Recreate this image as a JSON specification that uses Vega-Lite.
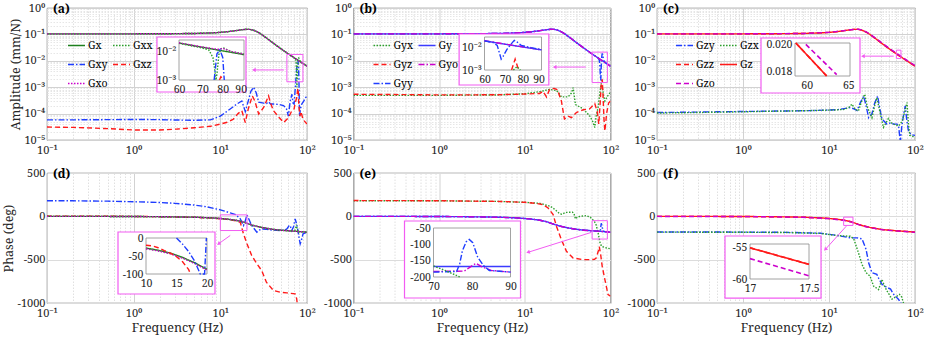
{
"$schema": "https://vega.github.io/schema/vega-lite/v6.json",
"background": "white",
"padding": {"left": 2, "top": 1, "right": 4, "bottom": 1},
"config": {
  "font": "Noto Serif",
  "view": {"stroke": "#262626", "strokeWidth": 0.8},
  "axis": {"labelFont": "Noto Serif", "labelFontSize": 11, "labelColor": "#262626", "titleFont": "Noto Serif", "titleFontSize": 12.5, "titleFontWeight": "normal", "titleColor": "#262626", "domain": false, "ticks": false, "labelPadding": 2, "titlePadding": 1, "labelOverlap": false, "labelFlush": false, "labelBound": false},
  "axisX": {"labelPadding": 4},
  "legend": {"labelFont": "Noto Serif"},
  "title": {"font": "Noto Serif"}
},
"resolve": {"scale": {"color": "independent", "strokeDash": "independent"}, "legend": {"color": "independent", "strokeDash": "independent"}},
"datasets": {
  "mag": [
    {"f":0.1,"v":0.105},{"f":0.2,"v":0.105},{"f":0.5,"v":0.105},{"f":1,"v":0.1051},{"f":2,"v":0.1055},{"f":5,"v":0.1084},{"f":8,"v":0.114},{"f":10,"v":0.1194},{"f":12,"v":0.1262},{"f":15,"v":0.1386},{"f":18,"v":0.1511},{"f":20,"v":0.1559},{"f":22,"v":0.1546},{"f":24,"v":0.1458},{"f":27,"v":0.1232},{"f":30,"v":0.0989},{"f":35,"v":0.0682},{"f":40,"v":0.049},{"f":45,"v":0.0368},{"f":50,"v":0.0287},{"f":55,"v":0.023},{"f":60,"v":0.0189},{"f":65,"v":0.0158},{"f":70,"v":0.01347},{"f":72,"v":0.01267},{"f":74,"v":0.01194},{"f":76,"v":0.01128},{"f":78,"v":0.01067},{"f":80,"v":0.01011},{"f":82,"v":0.00959},{"f":85,"v":0.00888},{"f":90,"v":0.00787},{"f":100,"v":0.0063}
  ],
  "ph": [
    {"f":0.1,"v":0},{"f":0.2,"v":-0.5},{"f":0.5,"v":-1},{"f":1,"v":-2},{"f":2,"v":-4},{"f":5,"v":-10},{"f":8,"v":-18},{"f":10,"v":-25},{"f":12,"v":-32},{"f":15,"v":-45},{"f":18,"v":-62},{"f":20,"v":-78},{"f":22,"v":-93},{"f":25,"v":-110},{"f":30,"v":-128},{"f":35,"v":-140},{"f":40,"v":-150},{"f":50,"v":-160},{"f":60,"v":-166},{"f":70,"v":-171},{"f":80,"v":-175},{"f":90,"v":-179},{"f":100,"v":-183}
  ],
  "a": [
    {"s":"Gxx","f":0.1,"v":0.105},{"s":"Gxx","f":0.2,"v":0.105},{"s":"Gxx","f":0.5,"v":0.105},{"s":"Gxx","f":1,"v":0.1051},{"s":"Gxx","f":2,"v":0.1055},{"s":"Gxx","f":5,"v":0.1084},{"s":"Gxx","f":8,"v":0.114},{"s":"Gxx","f":10,"v":0.1194},{"s":"Gxx","f":12,"v":0.1262},{"s":"Gxx","f":15,"v":0.1386},{"s":"Gxx","f":18,"v":0.1511},{"s":"Gxx","f":20,"v":0.1559},{"s":"Gxx","f":22,"v":0.1546},{"s":"Gxx","f":24,"v":0.1458},{"s":"Gxx","f":27,"v":0.1232},{"s":"Gxx","f":30,"v":0.0989},{"s":"Gxx","f":35,"v":0.0682},{"s":"Gxx","f":40,"v":0.049},{"s":"Gxx","f":45,"v":0.0368},{"s":"Gxx","f":50,"v":0.0287},{"s":"Gxx","f":55,"v":0.023},{"s":"Gxx","f":60,"v":0.0189},{"s":"Gxx","f":65,"v":0.0158},{"s":"Gxx","f":70,"v":0.01347},{"s":"Gxx","f":72,"v":0.0125},{"s":"Gxx","f":74,"v":0.011},{"s":"Gxx","f":75,"v":0.0075},{"s":"Gxx","f":76,"v":0.002},{"s":"Gxx","f":76.5,"v":0.001},{"s":"Gxx","f":77,"v":0.0016},{"s":"Gxx","f":78,"v":0.0075},{"s":"Gxx","f":79,"v":0.0118},{"s":"Gxx","f":80,"v":0.0128},{"s":"Gxx","f":81,"v":0.0124},{"s":"Gxx","f":83,"v":0.0101},{"s":"Gxx","f":85,"v":0.0089},{"s":"Gxx","f":90,"v":0.0079},{"s":"Gxx","f":100,"v":0.0063},
    {"s":"Gxy","f":0.1,"v":5.8e-5},{"s":"Gxy","f":0.2,"v":5.8e-5},{"s":"Gxy","f":0.5,"v":5.9e-5},{"s":"Gxy","f":1,"v":6e-5},{"s":"Gxy","f":2,"v":5.9e-5},{"s":"Gxy","f":3.2,"v":5.7e-5},{"s":"Gxy","f":5,"v":5.6e-5},{"s":"Gxy","f":7.7,"v":5.8e-5},{"s":"Gxy","f":10,"v":8e-5},{"s":"Gxy","f":13,"v":1.5e-4},{"s":"Gxy","f":15.5,"v":2.3e-4},{"s":"Gxy","f":17.7,"v":3e-4},{"s":"Gxy","f":19.4,"v":1.2e-4},{"s":"Gxy","f":21,"v":3e-4},{"s":"Gxy","f":22.5,"v":7e-4},{"s":"Gxy","f":24.2,"v":1e-3},{"s":"Gxy","f":26,"v":6e-4},{"s":"Gxy","f":27.7,"v":2.7e-4},{"s":"Gxy","f":31.6,"v":2.5e-4},{"s":"Gxy","f":34,"v":2.4e-4},{"s":"Gxy","f":36,"v":2.8e-4},{"s":"Gxy","f":38,"v":2.3e-4},{"s":"Gxy","f":41,"v":2.3e-4},{"s":"Gxy","f":48,"v":2.2e-4},{"s":"Gxy","f":53.7,"v":2e-4},{"s":"Gxy","f":58,"v":1.5e-4},{"s":"Gxy","f":61,"v":8e-5},{"s":"Gxy","f":64,"v":3e-4},{"s":"Gxy","f":67,"v":5.4e-4},{"s":"Gxy","f":69,"v":2.5e-4},{"s":"Gxy","f":71,"v":2.3e-4},{"s":"Gxy","f":73,"v":8e-4},{"s":"Gxy","f":75,"v":3e-3},{"s":"Gxy","f":77,"v":8e-3},{"s":"Gxy","f":78.5,"v":1.1e-2},{"s":"Gxy","f":80,"v":6e-3},{"s":"Gxy","f":81,"v":1e-3},{"s":"Gxy","f":82,"v":8e-5},{"s":"Gxy","f":84,"v":1.5e-4},{"s":"Gxy","f":87,"v":2.3e-4},{"s":"Gxy","f":92,"v":3e-4},{"s":"Gxy","f":96,"v":4e-4},{"s":"Gxy","f":100,"v":4.5e-4},
    {"s":"Gxz","f":0.1,"v":3.1e-5},{"s":"Gxz","f":0.2,"v":3e-5},{"s":"Gxz","f":0.5,"v":2.7e-5},{"s":"Gxz","f":1,"v":2.4e-5},{"s":"Gxz","f":2,"v":2.4e-5},{"s":"Gxz","f":3.2,"v":2.6e-5},{"s":"Gxz","f":5,"v":2.9e-5},{"s":"Gxz","f":7.7,"v":3.3e-5},{"s":"Gxz","f":10,"v":4e-5},{"s":"Gxz","f":12,"v":4.7e-5},{"s":"Gxz","f":14,"v":6e-5},{"s":"Gxz","f":16,"v":1e-4},{"s":"Gxz","f":17.7,"v":1.3e-4},{"s":"Gxz","f":19.4,"v":4.6e-5},{"s":"Gxz","f":21,"v":1.5e-4},{"s":"Gxz","f":23.4,"v":4.7e-4},{"s":"Gxz","f":25,"v":3e-4},{"s":"Gxz","f":27.7,"v":9.6e-5},{"s":"Gxz","f":31.6,"v":1.7e-4},{"s":"Gxz","f":34,"v":3e-4},{"s":"Gxz","f":36,"v":4.7e-4},{"s":"Gxz","f":38,"v":2.5e-4},{"s":"Gxz","f":41,"v":1.3e-4},{"s":"Gxz","f":48,"v":6.9e-5},{"s":"Gxz","f":54,"v":4.6e-5},{"s":"Gxz","f":61,"v":7e-5},{"s":"Gxz","f":67,"v":1.3e-4},{"s":"Gxz","f":71,"v":1.5e-4},{"s":"Gxz","f":73,"v":2.5e-4},{"s":"Gxz","f":76,"v":4e-4},{"s":"Gxz","f":78,"v":8e-4},{"s":"Gxz","f":79,"v":9e-4},{"s":"Gxz","f":80.5,"v":2e-4},{"s":"Gxz","f":83,"v":8e-5},{"s":"Gxz","f":85,"v":1.2e-4},{"s":"Gxz","f":90,"v":6e-5},{"s":"Gxz","f":100,"v":4e-5}
  ],
  "b": [
    {"s":"Gyx","f":0.1,"v":4.9e-4},{"s":"Gyx","f":0.2,"v":4.9e-4},{"s":"Gyx","f":0.5,"v":4.9e-4},{"s":"Gyx","f":1,"v":4.9e-4},{"s":"Gyx","f":2,"v":5e-4},{"s":"Gyx","f":5,"v":5.1e-4},{"s":"Gyx","f":10.4,"v":5.7e-4},{"s":"Gyx","f":15,"v":6.8e-4},{"s":"Gyx","f":19.5,"v":8.3e-4},{"s":"Gyx","f":23.4,"v":7.5e-4},{"s":"Gyx","f":25,"v":6e-4},{"s":"Gyx","f":26.7,"v":4.3e-4},{"s":"Gyx","f":32,"v":4.3e-4},{"s":"Gyx","f":35,"v":6e-4},{"s":"Gyx","f":36.6,"v":9.6e-4},{"s":"Gyx","f":39,"v":2.2e-4},{"s":"Gyx","f":48,"v":1.5e-4},{"s":"Gyx","f":57,"v":8.3e-5},{"s":"Gyx","f":62,"v":5e-5},{"s":"Gyx","f":65.5,"v":3e-5},{"s":"Gyx","f":68,"v":8e-5},{"s":"Gyx","f":71.6,"v":1.7e-4},{"s":"Gyx","f":75,"v":6e-4},{"s":"Gyx","f":78,"v":1.4e-3},{"s":"Gyx","f":80,"v":1e-3},{"s":"Gyx","f":83,"v":5e-4},{"s":"Gyx","f":86,"v":3e-4},{"s":"Gyx","f":92,"v":4.5e-4},{"s":"Gyx","f":100,"v":6.5e-4},
    {"s":"Gyz","f":0.1,"v":5.4e-4},{"s":"Gyz","f":0.2,"v":5.3e-4},{"s":"Gyz","f":0.5,"v":5.2e-4},{"s":"Gyz","f":1,"v":5.1e-4},{"s":"Gyz","f":2,"v":5.1e-4},{"s":"Gyz","f":5,"v":5.2e-4},{"s":"Gyz","f":10,"v":5.5e-4},{"s":"Gyz","f":14.9,"v":5.8e-4},{"s":"Gyz","f":16.3,"v":7e-4},{"s":"Gyz","f":17.9,"v":4.3e-4},{"s":"Gyz","f":19.5,"v":8.3e-4},{"s":"Gyz","f":22,"v":9e-4},{"s":"Gyz","f":24,"v":8e-4},{"s":"Gyz","f":26.7,"v":3e-4},{"s":"Gyz","f":29,"v":6.2e-5},{"s":"Gyz","f":32,"v":8e-5},{"s":"Gyz","f":35,"v":7e-5},{"s":"Gyz","f":40,"v":1.1e-4},{"s":"Gyz","f":48,"v":1.4e-4},{"s":"Gyz","f":57,"v":1.5e-4},{"s":"Gyz","f":65.5,"v":2.4e-4},{"s":"Gyz","f":70,"v":1.2e-4},{"s":"Gyz","f":73,"v":4e-5},{"s":"Gyz","f":76,"v":3e-4},{"s":"Gyz","f":78,"v":1.5e-3},{"s":"Gyz","f":80,"v":2e-3},{"s":"Gyz","f":82,"v":4e-4},{"s":"Gyz","f":84,"v":6e-5},{"s":"Gyz","f":86,"v":2.2e-5},{"s":"Gyz","f":90,"v":1e-4},{"s":"Gyz","f":95,"v":2.5e-4},{"s":"Gyz","f":100,"v":3e-4},
    {"s":"Gyy","f":0.1,"v":0.105},{"s":"Gyy","f":0.2,"v":0.105},{"s":"Gyy","f":0.5,"v":0.105},{"s":"Gyy","f":1,"v":0.1051},{"s":"Gyy","f":2,"v":0.1055},{"s":"Gyy","f":5,"v":0.1084},{"s":"Gyy","f":8,"v":0.114},{"s":"Gyy","f":10,"v":0.1194},{"s":"Gyy","f":12,"v":0.1262},{"s":"Gyy","f":15,"v":0.1386},{"s":"Gyy","f":18,"v":0.1511},{"s":"Gyy","f":20,"v":0.1559},{"s":"Gyy","f":22,"v":0.1546},{"s":"Gyy","f":24,"v":0.1458},{"s":"Gyy","f":27,"v":0.1232},{"s":"Gyy","f":30,"v":0.0989},{"s":"Gyy","f":35,"v":0.0682},{"s":"Gyy","f":40,"v":0.049},{"s":"Gyy","f":45,"v":0.0368},{"s":"Gyy","f":50,"v":0.0287},{"s":"Gyy","f":55,"v":0.023},{"s":"Gyy","f":60,"v":0.0189},{"s":"Gyy","f":65,"v":0.0158},{"s":"Gyy","f":70,"v":0.01347},{"s":"Gyy","f":72,"v":0.01267},{"s":"Gyy","f":74,"v":0.0105},{"s":"Gyy","f":75,"v":0.007},{"s":"Gyy","f":76,"v":0.003},{"s":"Gyy","f":77,"v":0.0018},{"s":"Gyy","f":78,"v":0.006},{"s":"Gyy","f":79,"v":0.014},{"s":"Gyy","f":80,"v":0.019},{"s":"Gyy","f":81,"v":0.017},{"s":"Gyy","f":83,"v":0.011},{"s":"Gyy","f":85,"v":0.0092},{"s":"Gyy","f":90,"v":0.0079},{"s":"Gyy","f":100,"v":0.0063}
  ],
  "c": [
    {"s":"Gzy","f":0.1,"v":1.1e-4},{"s":"Gzy","f":0.2,"v":1.12e-4},{"s":"Gzy","f":0.5,"v":1.17e-4},{"s":"Gzy","f":1,"v":1.2e-4},{"s":"Gzy","f":2,"v":1.24e-4},{"s":"Gzy","f":3.25,"v":1.26e-4},{"s":"Gzy","f":6,"v":1.3e-4},{"s":"Gzy","f":12.4,"v":1.4e-4},{"s":"Gzy","f":15,"v":1.55e-4},{"s":"Gzy","f":17.7,"v":1.7e-4},{"s":"Gzy","f":19.5,"v":1.5e-4},{"s":"Gzy","f":21.2,"v":1.3e-4},{"s":"Gzy","f":23,"v":2.5e-4},{"s":"Gzy","f":25.3,"v":4.6e-4},{"s":"Gzy","f":27,"v":2e-4},{"s":"Gzy","f":28.9,"v":7e-5},{"s":"Gzy","f":31.6,"v":1e-4},{"s":"Gzy","f":34,"v":2.5e-4},{"s":"Gzy","f":36.8,"v":4.6e-4},{"s":"Gzy","f":39,"v":1.5e-4},{"s":"Gzy","f":41.3,"v":6.2e-5},{"s":"Gzy","f":47.2,"v":4e-5},{"s":"Gzy","f":52,"v":4.5e-5},{"s":"Gzy","f":56.5,"v":4e-5},{"s":"Gzy","f":62,"v":4e-5},{"s":"Gzy","f":64.5,"v":3.4e-5},{"s":"Gzy","f":67.5,"v":8e-6},{"s":"Gzy","f":70,"v":3e-5},{"s":"Gzy","f":74,"v":1e-4},{"s":"Gzy","f":77,"v":1.95e-4},{"s":"Gzy","f":80,"v":6e-5},{"s":"Gzy","f":84,"v":2.2e-5},{"s":"Gzy","f":90,"v":1.6e-5},{"s":"Gzy","f":100,"v":1.5e-5},
    {"s":"Gzx","f":0.1,"v":1.05e-4},{"s":"Gzx","f":0.2,"v":1.08e-4},{"s":"Gzx","f":0.5,"v":1.13e-4},{"s":"Gzx","f":1,"v":1.17e-4},{"s":"Gzx","f":2,"v":1.22e-4},{"s":"Gzx","f":3.25,"v":1.25e-4},{"s":"Gzx","f":6,"v":1.3e-4},{"s":"Gzx","f":12.4,"v":1.38e-4},{"s":"Gzx","f":15,"v":1.45e-4},{"s":"Gzx","f":17,"v":1.7e-4},{"s":"Gzx","f":18.5,"v":2.3e-4},{"s":"Gzx","f":20,"v":1.5e-4},{"s":"Gzx","f":22,"v":1.26e-4},{"s":"Gzx","f":24,"v":3e-4},{"s":"Gzx","f":26,"v":5.4e-4},{"s":"Gzx","f":28,"v":1.7e-4},{"s":"Gzx","f":31.6,"v":7e-5},{"s":"Gzx","f":34,"v":2e-4},{"s":"Gzx","f":36,"v":4e-4},{"s":"Gzx","f":39,"v":1.2e-4},{"s":"Gzx","f":43,"v":3e-5},{"s":"Gzx","f":49,"v":6.5e-5},{"s":"Gzx","f":53,"v":4.5e-5},{"s":"Gzx","f":56.5,"v":4e-5},{"s":"Gzx","f":64.5,"v":3.4e-5},{"s":"Gzx","f":70.6,"v":5e-5},{"s":"Gzx","f":75,"v":1e-4},{"s":"Gzx","f":80.7,"v":2.6e-4},{"s":"Gzx","f":84,"v":4e-5},{"s":"Gzx","f":87,"v":1.5e-5},{"s":"Gzx","f":93,"v":1.4e-5},{"s":"Gzx","f":100,"v":1.2e-5},
    {"s":"Gzo","f":0.1,"v":0.105},{"s":"Gzo","f":1,"v":0.1051},{"s":"Gzo","f":5,"v":0.1084},{"s":"Gzo","f":10,"v":0.1194},{"s":"Gzo","f":15,"v":0.1386},{"s":"Gzo","f":20,"v":0.1559},{"s":"Gzo","f":22,"v":0.156},{"s":"Gzo","f":24,"v":0.148},{"s":"Gzo","f":27,"v":0.126},{"s":"Gzo","f":30,"v":0.1019},{"s":"Gzo","f":35,"v":0.071},{"s":"Gzo","f":40,"v":0.0515},{"s":"Gzo","f":50,"v":0.0301},{"s":"Gzo","f":60,"v":0.0198},{"s":"Gzo","f":70,"v":0.0141},{"s":"Gzo","f":80,"v":0.0106},{"s":"Gzo","f":90,"v":0.00826},{"s":"Gzo","f":100,"v":0.00662}
  ],
  "d": [
    {"s":"Gxy","f":0.1,"v":180},{"s":"Gxy","f":0.2,"v":179},{"s":"Gxy","f":0.5,"v":175},{"s":"Gxy","f":1,"v":168},{"s":"Gxy","f":2,"v":160},{"s":"Gxy","f":3,"v":150},{"s":"Gxy","f":5,"v":130},{"s":"Gxy","f":7,"v":110},{"s":"Gxy","f":10,"v":75},{"s":"Gxy","f":13,"v":40},{"s":"Gxy","f":15,"v":20},{"s":"Gxy","f":17,"v":-29},{"s":"Gxy","f":18.5,"v":-106},{"s":"Gxy","f":19.3,"v":-60},{"s":"Gxy","f":20.3,"v":17},{"s":"Gxy","f":21.5,"v":-40},{"s":"Gxy","f":23,"v":-106},{"s":"Gxy","f":26.4,"v":-183},{"s":"Gxy","f":28,"v":-160},{"s":"Gxy","f":30,"v":-145},{"s":"Gxy","f":34,"v":-150},{"s":"Gxy","f":37.7,"v":-156},{"s":"Gxy","f":49,"v":-164},{"s":"Gxy","f":55,"v":-160},{"s":"Gxy","f":58.6,"v":-145},{"s":"Gxy","f":62,"v":-110},{"s":"Gxy","f":64,"v":-106},{"s":"Gxy","f":66.5,"v":-164},{"s":"Gxy","f":70,"v":-120},{"s":"Gxy","f":73,"v":-29},{"s":"Gxy","f":76,"v":-90},{"s":"Gxy","f":78,"v":-145},{"s":"Gxy","f":81,"v":-250},{"s":"Gxy","f":83.5,"v":-317},{"s":"Gxy","f":86,"v":-280},{"s":"Gxy","f":90,"v":-202},{"s":"Gxy","f":100,"v":-183},
    {"s":"Gxz","f":0.1,"v":3},{"s":"Gxz","f":0.5,"v":1},{"s":"Gxz","f":1,"v":-1},{"s":"Gxz","f":2,"v":-4},{"s":"Gxz","f":5,"v":-11},{"s":"Gxz","f":8,"v":-20},{"s":"Gxz","f":10,"v":-28},{"s":"Gxz","f":12,"v":-35},{"s":"Gxz","f":14,"v":-45},{"s":"Gxz","f":15.5,"v":-55},{"s":"Gxz","f":17,"v":-70},{"s":"Gxz","f":18.5,"v":-202},{"s":"Gxz","f":20.3,"v":-317},{"s":"Gxz","f":23,"v":-452},{"s":"Gxz","f":26.4,"v":-548},{"s":"Gxz","f":30,"v":-625},{"s":"Gxz","f":34,"v":-760},{"s":"Gxz","f":41,"v":-856},{"s":"Gxz","f":49,"v":-875},{"s":"Gxz","f":58.6,"v":-883},{"s":"Gxz","f":73,"v":-895},{"s":"Gxz","f":76,"v":-950},{"s":"Gxz","f":78,"v":-1050},{"s":"Gxz","f":85,"v":-1150},{"s":"Gxz","f":100,"v":-1300},
    {"s":"Gxx","f":0.1,"v":0},{"s":"Gxx","f":0.2,"v":-0.5},{"s":"Gxx","f":0.5,"v":-1},{"s":"Gxx","f":1,"v":-2},{"s":"Gxx","f":2,"v":-4},{"s":"Gxx","f":5,"v":-10},{"s":"Gxx","f":8,"v":-18},{"s":"Gxx","f":10,"v":-25},{"s":"Gxx","f":12,"v":-32},{"s":"Gxx","f":15,"v":-45},{"s":"Gxx","f":18,"v":-62},{"s":"Gxx","f":20,"v":-78},{"s":"Gxx","f":22,"v":-93},{"s":"Gxx","f":25,"v":-110},{"s":"Gxx","f":30,"v":-128},{"s":"Gxx","f":35,"v":-140},{"s":"Gxx","f":40,"v":-150},{"s":"Gxx","f":50,"v":-160},{"s":"Gxx","f":60,"v":-166},{"s":"Gxx","f":70,"v":-171},{"s":"Gxx","f":72,"v":-168},{"s":"Gxx","f":74,"v":-140},{"s":"Gxx","f":75.5,"v":-95},{"s":"Gxx","f":77,"v":-150},{"s":"Gxx","f":79,"v":-185},{"s":"Gxx","f":82,"v":-178},{"s":"Gxx","f":90,"v":-179},{"s":"Gxx","f":100,"v":-183}
  ],
  "e": [
    {"s":"Gyx","f":0.1,"v":180},{"s":"Gyx","f":1,"v":179},{"s":"Gyx","f":5,"v":172},{"s":"Gyx","f":10,"v":162},{"s":"Gyx","f":15,"v":150},{"s":"Gyx","f":20,"v":115},{"s":"Gyx","f":23,"v":70},{"s":"Gyx","f":25.5,"v":30},{"s":"Gyx","f":27,"v":25},{"s":"Gyx","f":30,"v":45},{"s":"Gyx","f":36,"v":48},{"s":"Gyx","f":37.5,"v":30},{"s":"Gyx","f":39,"v":-30},{"s":"Gyx","f":41,"v":-10},{"s":"Gyx","f":44,"v":0},{"s":"Gyx","f":52,"v":8},{"s":"Gyx","f":58,"v":-10},{"s":"Gyx","f":65,"v":-60},{"s":"Gyx","f":68,"v":-100},{"s":"Gyx","f":72,"v":-200},{"s":"Gyx","f":76,"v":-320},{"s":"Gyx","f":80,"v":-350},{"s":"Gyx","f":90,"v":-365},{"s":"Gyx","f":100,"v":-375},
    {"s":"Gyz","f":0.1,"v":182},{"s":"Gyz","f":1,"v":180},{"s":"Gyz","f":5,"v":172},{"s":"Gyz","f":10,"v":162},{"s":"Gyz","f":14,"v":147},{"s":"Gyz","f":16.3,"v":135},{"s":"Gyz","f":18.7,"v":96},{"s":"Gyz","f":21.4,"v":20},{"s":"Gyz","f":23.4,"v":-115},{"s":"Gyz","f":26.7,"v":-269},{"s":"Gyz","f":30.6,"v":-404},{"s":"Gyz","f":36.6,"v":-481},{"s":"Gyz","f":48,"v":-500},{"s":"Gyz","f":58.7,"v":-500},{"s":"Gyz","f":65,"v":-495},{"s":"Gyz","f":68.4,"v":-480},{"s":"Gyz","f":72,"v":-400},{"s":"Gyz","f":74,"v":-350},{"s":"Gyz","f":77,"v":-450},{"s":"Gyz","f":80,"v":-577},{"s":"Gyz","f":86,"v":-730},{"s":"Gyz","f":93.6,"v":-903},{"s":"Gyz","f":100,"v":-920},
    {"s":"Gyy","f":0.1,"v":0},{"s":"Gyy","f":0.2,"v":-0.5},{"s":"Gyy","f":0.5,"v":-1},{"s":"Gyy","f":1,"v":-2},{"s":"Gyy","f":2,"v":-4},{"s":"Gyy","f":5,"v":-10},{"s":"Gyy","f":8,"v":-18},{"s":"Gyy","f":10,"v":-25},{"s":"Gyy","f":12,"v":-32},{"s":"Gyy","f":15,"v":-45},{"s":"Gyy","f":18,"v":-62},{"s":"Gyy","f":20,"v":-78},{"s":"Gyy","f":22,"v":-93},{"s":"Gyy","f":25,"v":-110},{"s":"Gyy","f":30,"v":-128},{"s":"Gyy","f":35,"v":-140},{"s":"Gyy","f":40,"v":-150},{"s":"Gyy","f":50,"v":-160},{"s":"Gyy","f":60,"v":-166},{"s":"Gyy","f":70,"v":-171},{"s":"Gyy","f":74,"v":-173},{"s":"Gyy","f":76,"v":-178},{"s":"Gyy","f":77,"v":-120},{"s":"Gyy","f":78,"v":-80},{"s":"Gyy","f":79,"v":-95},{"s":"Gyy","f":81,"v":-150},{"s":"Gyy","f":83,"v":-170},{"s":"Gyy","f":86,"v":-177},{"s":"Gyy","f":90,"v":-179},{"s":"Gyy","f":100,"v":-183}
  ],
  "f": [
    {"s":"Gzy","f":0.1,"v":-180},{"s":"Gzy","f":1,"v":-182},{"s":"Gzy","f":3.25,"v":-185},{"s":"Gzy","f":8,"v":-195},{"s":"Gzy","f":12.4,"v":-220},{"s":"Gzy","f":17.7,"v":-248},{"s":"Gzy","f":21.2,"v":-248},{"s":"Gzy","f":24.2,"v":-260},{"s":"Gzy","f":27,"v":-382},{"s":"Gzy","f":28.9,"v":-536},{"s":"Gzy","f":31.6,"v":-651},{"s":"Gzy","f":36,"v":-670},{"s":"Gzy","f":38,"v":-720},{"s":"Gzy","f":41.3,"v":-785},{"s":"Gzy","f":47.2,"v":-820},{"s":"Gzy","f":52,"v":-840},{"s":"Gzy","f":56.5,"v":-900},{"s":"Gzy","f":64.5,"v":-960},{"s":"Gzy","f":70.6,"v":-1020},{"s":"Gzy","f":80,"v":-1100},{"s":"Gzy","f":100,"v":-1200},
    {"s":"Gzx","f":0.1,"v":-182},{"s":"Gzx","f":1,"v":-184},{"s":"Gzx","f":3.25,"v":-187},{"s":"Gzx","f":8,"v":-197},{"s":"Gzx","f":12.4,"v":-222},{"s":"Gzx","f":17.7,"v":-230},{"s":"Gzx","f":19.4,"v":-260},{"s":"Gzx","f":22,"v":-420},{"s":"Gzx","f":24.2,"v":-555},{"s":"Gzx","f":27,"v":-650},{"s":"Gzx","f":30,"v":-690},{"s":"Gzx","f":33,"v":-805},{"s":"Gzx","f":37.7,"v":-845},{"s":"Gzx","f":41.3,"v":-728},{"s":"Gzx","f":44,"v":-800},{"s":"Gzx","f":47.2,"v":-860},{"s":"Gzx","f":54,"v":-955},{"s":"Gzx","f":61.7,"v":-920},{"s":"Gzx","f":66,"v":-900},{"s":"Gzx","f":70,"v":-930},{"s":"Gzx","f":76,"v":-1050},{"s":"Gzx","f":100,"v":-1150},
    {"s":"Gzo","f":0.1,"v":-1},{"s":"Gzo","f":1,"v":-3},{"s":"Gzo","f":2,"v":-5},{"s":"Gzo","f":5,"v":-11},{"s":"Gzo","f":10,"v":-27},{"s":"Gzo","f":15,"v":-47},{"s":"Gzo","f":18,"v":-64},{"s":"Gzo","f":20,"v":-80},{"s":"Gzo","f":22,"v":-95},{"s":"Gzo","f":25,"v":-112},{"s":"Gzo","f":30,"v":-130},{"s":"Gzo","f":35,"v":-142},{"s":"Gzo","f":40,"v":-152},{"s":"Gzo","f":50,"v":-162},{"s":"Gzo","f":60,"v":-168},{"s":"Gzo","f":70,"v":-173},{"s":"Gzo","f":80,"v":-177},{"s":"Gzo","f":90,"v":-181},{"s":"Gzo","f":100,"v":-185}
  ],
  "ia": [
    {"s":"Gx","f":60,"v":0.0189},{"s":"Gx","f":65,"v":0.0158},{"s":"Gx","f":70,"v":0.01347},{"s":"Gx","f":75,"v":0.0116},{"s":"Gx","f":80,"v":0.0101},{"s":"Gx","f":85,"v":0.0089},{"s":"Gx","f":92,"v":0.0075},
    {"s":"Gxx","f":60,"v":0.0185},{"s":"Gxx","f":65,"v":0.0152},{"s":"Gxx","f":70,"v":0.0127},{"s":"Gxx","f":73,"v":0.0108},{"s":"Gxx","f":75,"v":0.006},{"s":"Gxx","f":76,"v":0.002},{"s":"Gxx","f":76.5,"v":0.001},{"s":"Gxx","f":77,"v":0.0016},{"s":"Gxx","f":78,"v":0.0075},{"s":"Gxx","f":79,"v":0.0118},{"s":"Gxx","f":80,"v":0.0128},{"s":"Gxx","f":81,"v":0.0124},{"s":"Gxx","f":83,"v":0.0105},{"s":"Gxx","f":85,"v":0.0095},{"s":"Gxx","f":92,"v":0.0079},
    {"s":"Gxo","f":60,"v":0.0192},{"s":"Gxo","f":70,"v":0.0137},{"s":"Gxo","f":76,"v":0.0118},{"s":"Gxo","f":78,"v":0.0115},{"s":"Gxo","f":80,"v":0.0123},{"s":"Gxo","f":82,"v":0.0111},{"s":"Gxo","f":85,"v":0.0095},{"s":"Gxo","f":92,"v":0.0078},
    {"s":"Gxy","f":75.6,"v":0.001},{"s":"Gxy","f":77,"v":0.008},{"s":"Gxy","f":78.5,"v":0.011},{"s":"Gxy","f":80,"v":0.006},{"s":"Gxy","f":80.8,"v":0.001},
    {"s":"Gxz","f":78.3,"v":0.001},{"s":"Gxz","f":79,"v":0.0013},{"s":"Gxz","f":80,"v":0.0011},{"s":"Gxz","f":80.4,"v":0.001}
  ],
  "ib": [
    {"s":"Gy","f":60,"v":0.019},{"s":"Gy","f":70,"v":0.0135},{"s":"Gy","f":80,"v":0.0102},{"s":"Gy","f":92,"v":0.0076},
    {"s":"Gyo","f":60,"v":0.0192},{"s":"Gyo","f":70,"v":0.0137},{"s":"Gyo","f":80,"v":0.0104},{"s":"Gyo","f":92,"v":0.0077},
    {"s":"Gyy","f":60,"v":0.019},{"s":"Gyy","f":64,"v":0.016},{"s":"Gyy","f":66,"v":0.012},{"s":"Gyy","f":67,"v":0.006},{"s":"Gyy","f":68,"v":0.003},{"s":"Gyy","f":69,"v":0.004},{"s":"Gyy","f":71,"v":0.008},{"s":"Gyy","f":73,"v":0.013},{"s":"Gyy","f":75,"v":0.02},{"s":"Gyy","f":76.5,"v":0.017},{"s":"Gyy","f":79,"v":0.012},{"s":"Gyy","f":85,"v":0.0095},{"s":"Gyy","f":92,"v":0.0078},
    {"s":"Gyz","f":73.5,"v":0.001},{"s":"Gyz","f":75.5,"v":0.003},{"s":"Gyz","f":77.5,"v":0.001},
    {"s":"Gyx","f":74.5,"v":0.001},{"s":"Gyx","f":76.5,"v":0.0014},{"s":"Gyx","f":78.5,"v":0.001}
  ],
  "ic": [
    {"s":"Gzz","f":58.7,"v":0.0201},{"s":"Gzz","f":62.4,"v":0.0177},
    {"s":"Gz","f":58.7,"v":0.0201},{"s":"Gz","f":62.4,"v":0.0177},
    {"s":"Gzo","f":59.9,"v":0.02},{"s":"Gzo","f":63.6,"v":0.0178}
  ],
  "id": [
    {"s":"Gx","f":10,"v":-28},{"s":"Gx","f":12,"v":-34},{"s":"Gx","f":14,"v":-42},{"s":"Gx","f":16,"v":-54},{"s":"Gx","f":18,"v":-69},{"s":"Gx","f":20,"v":-87},
    {"s":"Gxx","f":10,"v":-29},{"s":"Gxx","f":12,"v":-35},{"s":"Gxx","f":14,"v":-43},{"s":"Gxx","f":16,"v":-55},{"s":"Gxx","f":18,"v":-70},{"s":"Gxx","f":20,"v":-88},
    {"s":"Gxo","f":10,"v":-30},{"s":"Gxo","f":12,"v":-36},{"s":"Gxo","f":14,"v":-44},{"s":"Gxo","f":16,"v":-56},{"s":"Gxo","f":18,"v":-71},{"s":"Gxo","f":20,"v":-89},
    {"s":"Gxz","f":10,"v":-20},{"s":"Gxz","f":11,"v":-22},{"s":"Gxz","f":12,"v":-27},{"s":"Gxz","f":13,"v":-35},{"s":"Gxz","f":14,"v":-42},{"s":"Gxz","f":15,"v":-52},{"s":"Gxz","f":16,"v":-66},{"s":"Gxz","f":17,"v":-88},{"s":"Gxz","f":17.3,"v":-100},
    {"s":"Gxy","f":15,"v":0},{"s":"Gxy","f":16,"v":-17},{"s":"Gxy","f":17,"v":-38},{"s":"Gxy","f":18,"v":-65},{"s":"Gxy","f":18.9,"v":-100},{"s":"Gxy","f":19.6,"v":-100},{"s":"Gxy","f":19.9,"v":0}
  ],
  "ie": [
    {"s":"Gy","f":70,"v":-168},{"s":"Gy","f":90,"v":-168},
    {"s":"Gyo","f":70,"v":-183},{"s":"Gyo","f":78,"v":-182},{"s":"Gyo","f":79.5,"v":-170},{"s":"Gyo","f":81,"v":-158},{"s":"Gyo","f":82.5,"v":-168},{"s":"Gyo","f":85,"v":-180},{"s":"Gyo","f":90,"v":-185},
    {"s":"Gyy","f":70,"v":-185},{"s":"Gyy","f":76,"v":-183},{"s":"Gyy","f":76.8,"v":-160},{"s":"Gyy","f":77.5,"v":-120},{"s":"Gyy","f":78.5,"v":-92},{"s":"Gyy","f":79.3,"v":-85},{"s":"Gyy","f":80.2,"v":-95},{"s":"Gyy","f":81.5,"v":-140},{"s":"Gyy","f":83,"v":-165},{"s":"Gyy","f":84.5,"v":-180},{"s":"Gyy","f":90,"v":-185},
    {"s":"Gyx","f":70,"v":-166},{"s":"Gyx","f":73,"v":-180},{"s":"Gyx","f":76.5,"v":-198},{"s":"Gyx","f":76.8,"v":-200}
  ],
  "if": [
    {"s":"Gzz","f":17,"v":-55.1},{"s":"Gzz","f":17.5,"v":-57.7},
    {"s":"Gz","f":17,"v":-55.1},{"s":"Gz","f":17.5,"v":-57.7},
    {"s":"Gzo","f":17,"v":-56.8},{"s":"Gzo","f":17.5,"v":-59.5}
  ]
},
"columns": 3,
"spacing": {"row": 33, "column": 46.5},
"bounds": "flush",
"concat": [
  {
    "width": 260, "height": 132,
    "title": {"text": "(a)", "anchor": "start", "frame": "group", "dx": 6, "dy": 18, "fontSize": 12, "fontWeight": "bold", "color": "#000000"},
    "resolve": {"scale": {"x": "independent", "y": "independent"}},
    "layer": [
      {
        "layer": [
          {"data": {"name": "a"}, "transform": [{"filter": "datum.s=='Gxy'||datum.s=='Gxz'"}], "mark": {"type": "line", "clip": true, "strokeWidth": 1.4},
           "encoding": {
             "x": {"field": "f", "type": "quantitative", "scale": {"type": "log", "domain": [0.1, 100], "nice": false}, "axis": {"title": null, "values": [0.1,0.2,0.3,0.4,0.5,0.6,0.7,0.8,0.9,1,2,3,4,5,6,7,8,9,10,20,30,40,50,60,70,80,90,100], "labelExpr": "abs(log(datum.value)/LN10-round(log(datum.value)/LN10))<0.001?'10'+['⁻⁵','⁻⁴','⁻³','⁻²','⁻¹','⁰','¹','²'][round(log(datum.value)/LN10)+5]:''", "gridColor": {"condition": {"test": "abs(log(datum.value)/LN10-round(log(datum.value)/LN10))<0.001", "value": "#d2d2d2"}, "value": "#e0e0e0"}, "gridDash": {"condition": {"test": "abs(log(datum.value)/LN10-round(log(datum.value)/LN10))<0.001", "value": []}, "value": [1.5, 1.5]}}},
             "y": {"field": "v", "type": "quantitative", "scale": {"type": "log", "domain": [0.00001, 1], "nice": false}, "axis": {"title": "Amplitude (mm/N)", "values": [0.00001,0.00002,0.00003,0.00004,0.00005,0.00006,0.00007,0.00008,0.00009,0.0001,0.0002,0.0003,0.0004,0.0005,0.0006,0.0007,0.0008,0.0009,0.001,0.002,0.003,0.004,0.005,0.006,0.007,0.008,0.009,0.01,0.02,0.03,0.04,0.05,0.06,0.07,0.08,0.09,0.1,0.2,0.3,0.4,0.5,0.6,0.7,0.8,0.9,1], "labelExpr": "abs(log(datum.value)/LN10-round(log(datum.value)/LN10))<0.001?'10'+['⁻⁵','⁻⁴','⁻³','⁻²','⁻¹','⁰','¹','²'][round(log(datum.value)/LN10)+5]:''", "gridColor": {"condition": {"test": "abs(log(datum.value)/LN10-round(log(datum.value)/LN10))<0.001", "value": "#d2d2d2"}, "value": "#e6e6e6"}, "gridDash": {"condition": {"test": "abs(log(datum.value)/LN10-round(log(datum.value)/LN10))<0.001", "value": []}, "value": [1.5, 1.5]}}},
             "color": {"field": "s", "type": "nominal", "title": null, "scale": {"domain": ["Gx","Gxy","Gxo","Gxx","Gxz"], "range": ["#1d7f1d","#1f3dff","#cc00cc","#2ca02c","#ff1a1a"]}, "legend": {"orient": "none", "legendX": 20, "legendY": 28, "columns": 2, "symbolType": "stroke", "symbolSize": 289, "symbolStrokeWidth": 1.5, "labelFontSize": 10.5, "labelColor": "#000000", "rowPadding": 4, "columnPadding": 2, "padding": 0, "labelOffset": 2, "title": null}},
             "strokeDash": {"field": "s", "type": "nominal", "title": null, "scale": {"domain": ["Gx","Gxy","Gxo","Gxx","Gxz"], "range": [[1,0],[6,2,1.5,2],[1.5,1.5],[1.5,1.5],[5,3]]}, "legend": {"orient": "none", "legendX": 20, "legendY": 28, "columns": 2, "symbolType": "stroke", "symbolSize": 289, "symbolStrokeWidth": 1.5, "labelFontSize": 10.5, "labelColor": "#000000", "rowPadding": 4, "columnPadding": 2, "padding": 0, "labelOffset": 2, "title": null}}
           }},
          {"data": {"name": "mag"}, "mark": {"type": "line", "clip": true, "strokeWidth": 1.4}, "encoding": {"x": {"field": "f", "type": "quantitative", "scale": {"type": "log"}}, "y": {"field": "v", "type": "quantitative", "scale": {"type": "log"}}, "color": {"datum": "Gx", "type": "nominal", "title": null}, "strokeDash": {"datum": "Gx", "type": "nominal", "title": null}}},
          {"data": {"name": "a"}, "transform": [{"filter": "datum.s=='Gxx'"}], "mark": {"type": "line", "clip": true, "strokeWidth": 1.4}, "encoding": {"x": {"field": "f", "type": "quantitative", "scale": {"type": "log"}}, "y": {"field": "v", "type": "quantitative", "scale": {"type": "log"}}, "color": {"field": "s", "type": "nominal", "title": null}, "strokeDash": {"field": "s", "type": "nominal", "title": null}}},
          {"data": {"name": "mag"}, "mark": {"type": "line", "clip": true, "strokeWidth": 1.4}, "encoding": {"x": {"field": "f", "type": "quantitative", "scale": {"type": "log"}}, "y": {"field": "v", "type": "quantitative", "scale": {"type": "log"}}, "color": {"datum": "Gxo", "type": "nominal", "title": null}, "strokeDash": {"datum": "Gxo", "type": "nominal", "title": null}}},
          {"data": {"values": [{}]}, "mark": {"type": "rect", "fill": "transparent", "stroke": "#f25cf2", "strokeWidth": 1}, "encoding": {"x": {"datum": 58.6, "scale": {"type": "log"}}, "x2": {"datum": 89.8}, "y": {"datum": 0.0016, "scale": {"type": "log"}}, "y2": {"datum": 0.0174}}},
          {"data": {"values": [{}]}, "mark": {"type": "rule", "stroke": "#f25cf2", "strokeWidth": 1}, "encoding": {"x": {"datum": 54.2, "scale": {"type": "log"}}, "x2": {"datum": 24.4}, "y": {"datum": 0.0045, "scale": {"type": "log"}}}},
          {"data": {"values": [{}]}, "mark": {"type": "point", "shape": "triangle-left", "filled": true, "color": "#f25cf2", "size": 18, "opacity": 1}, "encoding": {"x": {"datum": 24.4, "scale": {"type": "log"}}, "y": {"datum": 0.0045, "scale": {"type": "log"}}}}
        ]
      },
      {
        "layer": [
          {"data": {"values": [{}]}, "mark": {"type": "rect", "fill": "white", "stroke": "#f25cf2", "strokeWidth": 1.2}, "encoding": {"x": {"datum": 51.9, "scale": {"type": "log"}}, "x2": {"datum": 93.2}, "y": {"datum": 0.000386, "scale": {"type": "log"}}, "y2": {"datum": 0.0305}}},
          {"data": {"values": [{}]}, "mark": {"type": "rect", "fill": "white", "stroke": "#8c8c8c", "strokeWidth": 0.8}, "encoding": {"x": {"datum": 60, "scale": {"type": "log"}}, "x2": {"datum": 92}, "y": {"datum": 0.001, "scale": {"type": "log"}}, "y2": {"datum": 0.024}}},
          {"data": {"name": "ia"}, "mark": {"type": "line", "strokeWidth": 1.4}, "encoding": {
            "x": {"field": "f", "type": "quantitative", "scale": {"type": "log", "domain": [60, 92], "range": [132, 197], "nice": false}, "axis": {"orient": "bottom", "offset": -60, "title": null, "values": [60, 70, 80, 90], "grid": false, "zindex": 1, "labelFontSize": 10.5, "labelPadding": 4}},
            "y": {"field": "v", "type": "quantitative", "scale": {"type": "log", "domain": [0.001, 0.024], "range": [72, 32], "nice": false}, "axis": {"orient": "left", "offset": -132, "title": null, "values": [0.001, 0.01], "labelExpr": "'10'+['⁻⁵','⁻⁴','⁻³','⁻²','⁻¹','⁰','¹','²'][round(log(datum.value)/LN10)+5]", "grid": false, "zindex": 1, "labelFontSize": 10.5, "labelPadding": 3}},
            "color": {"field": "s", "type": "nominal", "title": null}, "strokeDash": {"field": "s", "type": "nominal", "title": null}}}
        ]
      }
    ]
  },
  {
    "width": 257, "height": 132,
    "title": {"text": "(b)", "anchor": "start", "frame": "group", "dx": 6, "dy": 18, "fontSize": 12, "fontWeight": "bold", "color": "#000000"},
    "resolve": {"scale": {"x": "independent", "y": "independent"}},
    "layer": [
      {
        "layer": [
          {"data": {"name": "b"}, "transform": [{"filter": "datum.s=='Gyx'||datum.s=='Gyz'"}], "mark": {"type": "line", "clip": true, "strokeWidth": 1.4},
           "encoding": {
             "x": {"field": "f", "type": "quantitative", "scale": {"type": "log", "domain": [0.1, 100], "nice": false}, "axis": {"title": null, "values": [0.1,0.2,0.3,0.4,0.5,0.6,0.7,0.8,0.9,1,2,3,4,5,6,7,8,9,10,20,30,40,50,60,70,80,90,100], "labelExpr": "abs(log(datum.value)/LN10-round(log(datum.value)/LN10))<0.001?'10'+['⁻⁵','⁻⁴','⁻³','⁻²','⁻¹','⁰','¹','²'][round(log(datum.value)/LN10)+5]:''", "gridColor": {"condition": {"test": "abs(log(datum.value)/LN10-round(log(datum.value)/LN10))<0.001", "value": "#d2d2d2"}, "value": "#e0e0e0"}, "gridDash": {"condition": {"test": "abs(log(datum.value)/LN10-round(log(datum.value)/LN10))<0.001", "value": []}, "value": [1.5, 1.5]}}},
             "y": {"field": "v", "type": "quantitative", "scale": {"type": "log", "domain": [0.00001, 1], "nice": false}, "axis": {"title": null, "values": [0.00001,0.00002,0.00003,0.00004,0.00005,0.00006,0.00007,0.00008,0.00009,0.0001,0.0002,0.0003,0.0004,0.0005,0.0006,0.0007,0.0008,0.0009,0.001,0.002,0.003,0.004,0.005,0.006,0.007,0.008,0.009,0.01,0.02,0.03,0.04,0.05,0.06,0.07,0.08,0.09,0.1,0.2,0.3,0.4,0.5,0.6,0.7,0.8,0.9,1], "labelExpr": "abs(log(datum.value)/LN10-round(log(datum.value)/LN10))<0.001?'10'+['⁻⁵','⁻⁴','⁻³','⁻²','⁻¹','⁰','¹','²'][round(log(datum.value)/LN10)+5]:''", "gridColor": {"condition": {"test": "abs(log(datum.value)/LN10-round(log(datum.value)/LN10))<0.001", "value": "#d2d2d2"}, "value": "#e6e6e6"}, "gridDash": {"condition": {"test": "abs(log(datum.value)/LN10-round(log(datum.value)/LN10))<0.001", "value": []}, "value": [1.5, 1.5]}}},
             "color": {"field": "s", "type": "nominal", "title": null, "scale": {"domain": ["Gyx","Gyz","Gyy","Gy","Gyo"], "range": ["#2ca02c","#ff1a1a","#1f3dff","#3b3bff","#cc00cc"]}, "legend": {"orient": "none", "legendX": 19, "legendY": 28, "columns": 2, "symbolType": "stroke", "symbolSize": 289, "symbolStrokeWidth": 1.5, "labelFontSize": 10.5, "labelColor": "#000000", "rowPadding": 4, "columnPadding": 2, "padding": 0, "labelOffset": 2, "title": null}},
             "strokeDash": {"field": "s", "type": "nominal", "title": null, "scale": {"domain": ["Gyx","Gyz","Gyy","Gy","Gyo"], "range": [[1.5,1.5],[5,3],[6,2,1.5,2],[1,0],[6,2,1.5,2]]}, "legend": {"orient": "none", "legendX": 19, "legendY": 28, "columns": 2, "symbolType": "stroke", "symbolSize": 289, "symbolStrokeWidth": 1.5, "labelFontSize": 10.5, "labelColor": "#000000", "rowPadding": 4, "columnPadding": 2, "padding": 0, "labelOffset": 2, "title": null}}
           }},
          {"data": {"name": "mag"}, "mark": {"type": "line", "clip": true, "strokeWidth": 1.4}, "encoding": {"x": {"field": "f", "type": "quantitative", "scale": {"type": "log"}}, "y": {"field": "v", "type": "quantitative", "scale": {"type": "log"}}, "color": {"datum": "Gy", "type": "nominal", "title": null}, "strokeDash": {"datum": "Gy", "type": "nominal", "title": null}}},
          {"data": {"name": "b"}, "transform": [{"filter": "datum.s=='Gyy'"}], "mark": {"type": "line", "clip": true, "strokeWidth": 1.4}, "encoding": {"x": {"field": "f", "type": "quantitative", "scale": {"type": "log"}}, "y": {"field": "v", "type": "quantitative", "scale": {"type": "log"}}, "color": {"field": "s", "type": "nominal", "title": null}, "strokeDash": {"field": "s", "type": "nominal", "title": null}}},
          {"data": {"name": "mag"}, "mark": {"type": "line", "clip": true, "strokeWidth": 1.4}, "encoding": {"x": {"field": "f", "type": "quantitative", "scale": {"type": "log"}}, "y": {"field": "v", "type": "quantitative", "scale": {"type": "log"}}, "color": {"datum": "Gyo", "type": "nominal", "title": null}, "strokeDash": {"datum": "Gyo", "type": "nominal", "title": null}}},
          {"data": {"values": [{}]}, "mark": {"type": "rect", "fill": "transparent", "stroke": "#f25cf2", "strokeWidth": 1}, "encoding": {"x": {"datum": 61, "scale": {"type": "log"}}, "x2": {"datum": 92}, "y": {"datum": 0.0015, "scale": {"type": "log"}}, "y2": {"datum": 0.0213}}},
          {"data": {"values": [{}]}, "mark": {"type": "rule", "stroke": "#f25cf2", "strokeWidth": 1}, "encoding": {"x": {"datum": 51.4, "scale": {"type": "log"}}, "x2": {"datum": 22.3}, "y": {"datum": 0.0058, "scale": {"type": "log"}}}},
          {"data": {"values": [{}]}, "mark": {"type": "point", "shape": "triangle-left", "filled": true, "color": "#f25cf2", "size": 18, "opacity": 1}, "encoding": {"x": {"datum": 22.3, "scale": {"type": "log"}}, "y": {"datum": 0.0058, "scale": {"type": "log"}}}}
        ]
      },
      {
        "layer": [
          {"data": {"values": [{}]}, "mark": {"type": "rect", "fill": "white", "stroke": "#f25cf2", "strokeWidth": 1.2}, "encoding": {"x": {"datum": 49.6, "scale": {"type": "log"}}, "x2": {"datum": 97.2}, "y": {"datum": 0.00022, "scale": {"type": "log"}}, "y2": {"datum": 0.0379}}},
          {"data": {"values": [{}]}, "mark": {"type": "rect", "fill": "white", "stroke": "#8c8c8c", "strokeWidth": 0.8}, "encoding": {"x": {"datum": 60, "scale": {"type": "log"}}, "x2": {"datum": 92}, "y": {"datum": 0.001, "scale": {"type": "log"}}, "y2": {"datum": 0.028}}},
          {"data": {"name": "ib"}, "mark": {"type": "line", "strokeWidth": 1.4}, "encoding": {
            "x": {"field": "f", "type": "quantitative", "scale": {"type": "log", "domain": [60, 92], "range": [131, 188], "nice": false}, "axis": {"orient": "bottom", "offset": -70, "title": null, "values": [60, 70, 80, 90], "grid": false, "zindex": 1, "labelFontSize": 10.5, "labelPadding": 4}},
            "y": {"field": "v", "type": "quantitative", "scale": {"type": "log", "domain": [0.001, 0.028], "range": [62, 29], "nice": false}, "axis": {"orient": "left", "offset": -131, "title": null, "values": [0.001, 0.01], "labelExpr": "'10'+['⁻⁵','⁻⁴','⁻³','⁻²','⁻¹','⁰','¹','²'][round(log(datum.value)/LN10)+5]", "grid": false, "zindex": 1, "labelFontSize": 10.5, "labelPadding": 3}},
            "color": {"field": "s", "type": "nominal", "title": null}, "strokeDash": {"field": "s", "type": "nominal", "title": null}}}
        ]
      }
    ]
  },
  {
    "width": 258, "height": 132,
    "title": {"text": "(c)", "anchor": "start", "frame": "group", "dx": 6, "dy": 18, "fontSize": 12, "fontWeight": "bold", "color": "#000000"},
    "resolve": {"scale": {"x": "independent", "y": "independent"}},
    "layer": [
      {
        "layer": [
          {"data": {"name": "c"}, "transform": [{"filter": "datum.s=='Gzy'||datum.s=='Gzx'"}], "mark": {"type": "line", "clip": true, "strokeWidth": 1.4},
           "encoding": {
             "x": {"field": "f", "type": "quantitative", "scale": {"type": "log", "domain": [0.1, 100], "nice": false}, "axis": {"title": null, "values": [0.1,0.2,0.3,0.4,0.5,0.6,0.7,0.8,0.9,1,2,3,4,5,6,7,8,9,10,20,30,40,50,60,70,80,90,100], "labelExpr": "abs(log(datum.value)/LN10-round(log(datum.value)/LN10))<0.001?'10'+['⁻⁵','⁻⁴','⁻³','⁻²','⁻¹','⁰','¹','²'][round(log(datum.value)/LN10)+5]:''", "gridColor": {"condition": {"test": "abs(log(datum.value)/LN10-round(log(datum.value)/LN10))<0.001", "value": "#d2d2d2"}, "value": "#e0e0e0"}, "gridDash": {"condition": {"test": "abs(log(datum.value)/LN10-round(log(datum.value)/LN10))<0.001", "value": []}, "value": [1.5, 1.5]}}},
             "y": {"field": "v", "type": "quantitative", "scale": {"type": "log", "domain": [0.00001, 1], "nice": false}, "axis": {"title": null, "values": [0.00001,0.00002,0.00003,0.00004,0.00005,0.00006,0.00007,0.00008,0.00009,0.0001,0.0002,0.0003,0.0004,0.0005,0.0006,0.0007,0.0008,0.0009,0.001,0.002,0.003,0.004,0.005,0.006,0.007,0.008,0.009,0.01,0.02,0.03,0.04,0.05,0.06,0.07,0.08,0.09,0.1,0.2,0.3,0.4,0.5,0.6,0.7,0.8,0.9,1], "labelExpr": "abs(log(datum.value)/LN10-round(log(datum.value)/LN10))<0.001?'10'+['⁻⁵','⁻⁴','⁻³','⁻²','⁻¹','⁰','¹','²'][round(log(datum.value)/LN10)+5]:''", "gridColor": {"condition": {"test": "abs(log(datum.value)/LN10-round(log(datum.value)/LN10))<0.001", "value": "#d2d2d2"}, "value": "#e6e6e6"}, "gridDash": {"condition": {"test": "abs(log(datum.value)/LN10-round(log(datum.value)/LN10))<0.001", "value": []}, "value": [1.5, 1.5]}}},
             "color": {"field": "s", "type": "nominal", "title": null, "scale": {"domain": ["Gzy","Gzz","Gzo","Gzx","Gz"], "range": ["#1f3dff","#ff1a1a","#cc00cc","#2ca02c","#ff1a1a"]}, "legend": {"orient": "none", "legendX": 18, "legendY": 28, "columns": 2, "symbolType": "stroke", "symbolSize": 289, "symbolStrokeWidth": 1.5, "labelFontSize": 10.5, "labelColor": "#000000", "rowPadding": 4, "columnPadding": 2, "padding": 0, "labelOffset": 2, "title": null}},
             "strokeDash": {"field": "s", "type": "nominal", "title": null, "scale": {"domain": ["Gzy","Gzz","Gzo","Gzx","Gz"], "range": [[6,2,1.5,2],[5,3],[5,3],[1.5,1.5],[1,0]]}, "legend": {"orient": "none", "legendX": 18, "legendY": 28, "columns": 2, "symbolType": "stroke", "symbolSize": 289, "symbolStrokeWidth": 1.5, "labelFontSize": 10.5, "labelColor": "#000000", "rowPadding": 4, "columnPadding": 2, "padding": 0, "labelOffset": 2, "title": null}}
           }},
          {"data": {"name": "mag"}, "mark": {"type": "line", "clip": true, "strokeWidth": 1.4}, "encoding": {"x": {"field": "f", "type": "quantitative", "scale": {"type": "log"}}, "y": {"field": "v", "type": "quantitative", "scale": {"type": "log"}}, "color": {"datum": "Gz", "type": "nominal", "title": null}, "strokeDash": {"datum": "Gz", "type": "nominal", "title": null}}},
          {"data": {"name": "mag"}, "mark": {"type": "line", "clip": true, "strokeWidth": 1.4}, "encoding": {"x": {"field": "f", "type": "quantitative", "scale": {"type": "log"}}, "y": {"field": "v", "type": "quantitative", "scale": {"type": "log"}}, "color": {"datum": "Gzz", "type": "nominal", "title": null}, "strokeDash": {"datum": "Gzz", "type": "nominal", "title": null}}},
          {"data": {"name": "c"}, "transform": [{"filter": "datum.s=='Gzo'"}], "mark": {"type": "line", "clip": true, "strokeWidth": 1.4}, "encoding": {"x": {"field": "f", "type": "quantitative", "scale": {"type": "log"}}, "y": {"field": "v", "type": "quantitative", "scale": {"type": "log"}}, "color": {"field": "s", "type": "nominal", "title": null}, "strokeDash": {"field": "s", "type": "nominal", "title": null}}},
          {"data": {"values": [{}]}, "mark": {"type": "rect", "fill": "transparent", "stroke": "#f25cf2", "strokeWidth": 1}, "encoding": {"x": {"datum": 60.7, "scale": {"type": "log"}}, "x2": {"datum": 68.7}, "y": {"datum": 0.0123, "scale": {"type": "log"}}, "y2": {"datum": 0.0253}}},
          {"data": {"values": [{}]}, "mark": {"type": "rule", "stroke": "#f25cf2", "strokeWidth": 1}, "encoding": {"x": {"datum": 56.5, "scale": {"type": "log"}}, "x2": {"datum": 24.8}, "y": {"datum": 0.015, "scale": {"type": "log"}}}},
          {"data": {"values": [{}]}, "mark": {"type": "point", "shape": "triangle-left", "filled": true, "color": "#f25cf2", "size": 18, "opacity": 1}, "encoding": {"x": {"datum": 24.8, "scale": {"type": "log"}}, "y": {"datum": 0.015, "scale": {"type": "log"}}}}
        ]
      },
      {
        "layer": [
          {"data": {"values": [{}]}, "mark": {"type": "rect", "fill": "white", "stroke": "#f25cf2", "strokeWidth": 1.2}, "encoding": {"x": {"datum": 54.52}, "x2": {"datum": 66.4}, "y": {"datum": 0.016464}, "y2": {"datum": 0.020464}}},
          {"data": {"values": [{}]}, "mark": {"type": "rect", "fill": "white", "stroke": "#8c8c8c", "strokeWidth": 0.8}, "encoding": {"x": {"datum": 58.6}, "x2": {"datum": 65.2}, "y": {"datum": 0.0177}, "y2": {"datum": 0.0201}}},
          {"data": {"name": "ic"}, "mark": {"type": "line", "strokeWidth": 1.6}, "encoding": {
            "x": {"field": "f", "type": "quantitative", "scale": {"domain": [58.6, 65.2], "range": [138, 193], "nice": false, "zero": false}, "axis": {"orient": "bottom", "offset": -64, "title": null, "values": [60, 65], "grid": false, "zindex": 1, "labelFontSize": 10.5, "labelPadding": 4}},
            "y": {"field": "v", "type": "quantitative", "scale": {"domain": [0.0177, 0.0201], "range": [68, 35], "nice": false, "zero": false}, "axis": {"orient": "left", "offset": -138, "title": null, "values": [0.018, 0.02], "labelExpr": "format(datum.value, '.3f')", "grid": false, "zindex": 1, "labelFontSize": 10.5, "labelPadding": 3}},
            "color": {"field": "s", "type": "nominal", "title": null}, "strokeDash": {"field": "s", "type": "nominal", "title": null}}}
        ]
      }
    ]
  },
  {
    "width": 260, "height": 130,
    "title": {"text": "(d)", "anchor": "start", "frame": "group", "dx": 6, "dy": 18, "fontSize": 12, "fontWeight": "bold", "color": "#000000"},
    "resolve": {"scale": {"x": "independent", "y": "independent"}},
    "layer": [
      {
        "layer": [
          {"data": {"name": "d"}, "transform": [{"filter": "datum.s=='Gxy'||datum.s=='Gxz'"}], "mark": {"type": "line", "clip": true, "strokeWidth": 1.4},
           "encoding": {
             "x": {"field": "f", "type": "quantitative", "scale": {"type": "log", "domain": [0.1, 100], "nice": false}, "axis": {"title": "Frequency (Hz)", "titlePadding": 3, "values": [0.1,0.2,0.3,0.4,0.5,0.6,0.7,0.8,0.9,1,2,3,4,5,6,7,8,9,10,20,30,40,50,60,70,80,90,100], "labelExpr": "abs(log(datum.value)/LN10-round(log(datum.value)/LN10))<0.001?'10'+['⁻⁵','⁻⁴','⁻³','⁻²','⁻¹','⁰','¹','²'][round(log(datum.value)/LN10)+5]:''", "gridColor": {"condition": {"test": "abs(log(datum.value)/LN10-round(log(datum.value)/LN10))<0.001", "value": "#d2d2d2"}, "value": "#e0e0e0"}, "gridDash": {"condition": {"test": "abs(log(datum.value)/LN10-round(log(datum.value)/LN10))<0.001", "value": []}, "value": [1.5, 1.5]}}},
             "y": {"field": "v", "type": "quantitative", "scale": {"domain": [-1000, 500], "nice": false, "zero": false}, "axis": {"title": "Phase (deg)", "values": [-1000, -500, 0, 500], "labelExpr": "''+datum.value", "gridColor": "#dcdcdc"}},
             "color": {"field": "s", "type": "nominal", "title": null, "scale": {"domain": ["Gx","Gxy","Gxo","Gxx","Gxz"], "range": ["#1d7f1d","#1f3dff","#cc00cc","#2ca02c","#ff1a1a"]}, "legend": null},
             "strokeDash": {"field": "s", "type": "nominal", "title": null, "scale": {"domain": ["Gx","Gxy","Gxo","Gxx","Gxz"], "range": [[1,0],[6,2,1.5,2],[1.5,1.5],[1.5,1.5],[5,3]]}, "legend": null}
           }},
          {"data": {"name": "ph"}, "mark": {"type": "line", "clip": true, "strokeWidth": 1.4}, "encoding": {"x": {"field": "f", "type": "quantitative", "scale": {"type": "log"}}, "y": {"field": "v", "type": "quantitative"}, "color": {"datum": "Gx", "type": "nominal", "title": null}, "strokeDash": {"datum": "Gx", "type": "nominal", "title": null}}},
          {"data": {"name": "d"}, "transform": [{"filter": "datum.s=='Gxx'"}], "mark": {"type": "line", "clip": true, "strokeWidth": 1.4}, "encoding": {"x": {"field": "f", "type": "quantitative", "scale": {"type": "log"}}, "y": {"field": "v", "type": "quantitative"}, "color": {"field": "s", "type": "nominal", "title": null}, "strokeDash": {"field": "s", "type": "nominal", "title": null}}},
          {"data": {"name": "ph"}, "mark": {"type": "line", "clip": true, "strokeWidth": 1.4}, "encoding": {"x": {"field": "f", "type": "quantitative", "scale": {"type": "log"}}, "y": {"field": "v", "type": "quantitative"}, "color": {"datum": "Gxo", "type": "nominal", "title": null}, "strokeDash": {"datum": "Gxo", "type": "nominal", "title": null}}},
          {"data": {"values": [{}]}, "mark": {"type": "rect", "fill": "transparent", "stroke": "#f25cf2", "strokeWidth": 1}, "encoding": {"x": {"datum": 10, "scale": {"type": "log"}}, "x2": {"datum": 20.3}, "y": {"datum": -164}, "y2": {"datum": 17}}},
          {"data": {"values": [{}]}, "mark": {"type": "rule", "stroke": "#f25cf2", "strokeWidth": 1}, "encoding": {"x": {"datum": 13, "scale": {"type": "log"}}, "x2": {"datum": 9.55}, "y": {"datum": -221}, "y2": {"datum": -317}}},
          {"data": {"values": [{}]}, "mark": {"type": "point", "shape": "triangle-left", "filled": true, "color": "#f25cf2", "size": 18, "opacity": 1, "angle": 324}, "encoding": {"x": {"datum": 9.55, "scale": {"type": "log"}}, "y": {"datum": -317}}}
        ]
      },
      {
        "layer": [
          {"data": {"values": [{}]}, "mark": {"type": "rect", "fill": "white", "stroke": "#f25cf2", "strokeWidth": 1.2}, "encoding": {"x": {"datum": 5.41}, "x2": {"datum": 21.31}, "y": {"datum": -155.6}, "y2": {"datum": 16.7}}},
          {"data": {"values": [{}]}, "mark": {"type": "rect", "fill": "white", "stroke": "#8c8c8c", "strokeWidth": 0.8}, "encoding": {"x": {"datum": 10}, "x2": {"datum": 20}, "y": {"datum": -100}, "y2": {"datum": 0}}},
          {"data": {"name": "id"}, "mark": {"type": "line", "strokeWidth": 1.4}, "encoding": {
            "x": {"field": "f", "type": "quantitative", "scale": {"domain": [10, 20], "range": [99, 160], "nice": false, "zero": false}, "axis": {"orient": "bottom", "offset": -29, "title": null, "values": [10, 15, 20], "grid": false, "zindex": 1, "labelFontSize": 10.5, "labelPadding": 4}},
            "y": {"field": "v", "type": "quantitative", "scale": {"domain": [-100, 0], "range": [101, 65], "nice": false, "zero": false}, "axis": {"orient": "left", "offset": -99, "title": null, "values": [-100, -50, 0], "labelExpr": "''+datum.value", "grid": false, "zindex": 1, "labelFontSize": 10.5, "labelPadding": 3}},
            "color": {"field": "s", "type": "nominal", "title": null}, "strokeDash": {"field": "s", "type": "nominal", "title": null}}}
        ]
      }
    ]
  },
  {
    "width": 257, "height": 130,
    "title": {"text": "(e)", "anchor": "start", "frame": "group", "dx": 6, "dy": 18, "fontSize": 12, "fontWeight": "bold", "color": "#000000"},
    "resolve": {"scale": {"x": "independent", "y": "independent"}},
    "layer": [
      {
        "layer": [
          {"data": {"name": "e"}, "transform": [{"filter": "datum.s=='Gyx'||datum.s=='Gyz'"}], "mark": {"type": "line", "clip": true, "strokeWidth": 1.4},
           "encoding": {
             "x": {"field": "f", "type": "quantitative", "scale": {"type": "log", "domain": [0.1, 100], "nice": false}, "axis": {"title": "Frequency (Hz)", "titlePadding": 3, "values": [0.1,0.2,0.3,0.4,0.5,0.6,0.7,0.8,0.9,1,2,3,4,5,6,7,8,9,10,20,30,40,50,60,70,80,90,100], "labelExpr": "abs(log(datum.value)/LN10-round(log(datum.value)/LN10))<0.001?'10'+['⁻⁵','⁻⁴','⁻³','⁻²','⁻¹','⁰','¹','²'][round(log(datum.value)/LN10)+5]:''", "gridColor": {"condition": {"test": "abs(log(datum.value)/LN10-round(log(datum.value)/LN10))<0.001", "value": "#d2d2d2"}, "value": "#e0e0e0"}, "gridDash": {"condition": {"test": "abs(log(datum.value)/LN10-round(log(datum.value)/LN10))<0.001", "value": []}, "value": [1.5, 1.5]}}},
             "y": {"field": "v", "type": "quantitative", "scale": {"domain": [-1000, 500], "nice": false, "zero": false}, "axis": {"title": null, "values": [-1000, -500, 0, 500], "labelExpr": "''+datum.value", "gridColor": "#dcdcdc"}},
             "color": {"field": "s", "type": "nominal", "title": null, "scale": {"domain": ["Gyx","Gyz","Gyy","Gy","Gyo"], "range": ["#2ca02c","#ff1a1a","#1f3dff","#3b3bff","#cc00cc"]}, "legend": null},
             "strokeDash": {"field": "s", "type": "nominal", "title": null, "scale": {"domain": ["Gyx","Gyz","Gyy","Gy","Gyo"], "range": [[1.5,1.5],[5,3],[6,2,1.5,2],[1,0],[6,2,1.5,2]]}, "legend": null}
           }},
          {"data": {"name": "ph"}, "mark": {"type": "line", "clip": true, "strokeWidth": 1.4}, "encoding": {"x": {"field": "f", "type": "quantitative", "scale": {"type": "log"}}, "y": {"field": "v", "type": "quantitative"}, "color": {"datum": "Gy", "type": "nominal", "title": null}, "strokeDash": {"datum": "Gy", "type": "nominal", "title": null}}},
          {"data": {"name": "e"}, "transform": [{"filter": "datum.s=='Gyy'"}], "mark": {"type": "line", "clip": true, "strokeWidth": 1.4}, "encoding": {"x": {"field": "f", "type": "quantitative", "scale": {"type": "log"}}, "y": {"field": "v", "type": "quantitative"}, "color": {"field": "s", "type": "nominal", "title": null}, "strokeDash": {"field": "s", "type": "nominal", "title": null}}},
          {"data": {"name": "ph"}, "mark": {"type": "line", "clip": true, "strokeWidth": 1.4}, "encoding": {"x": {"field": "f", "type": "quantitative", "scale": {"type": "log"}}, "y": {"field": "v", "type": "quantitative"}, "color": {"datum": "Gyo", "type": "nominal", "title": null}, "strokeDash": {"datum": "Gyo", "type": "nominal", "title": null}}},
          {"data": {"values": [{}]}, "mark": {"type": "rect", "fill": "transparent", "stroke": "#f25cf2", "strokeWidth": 1}, "encoding": {"x": {"datum": 61, "scale": {"type": "log"}}, "x2": {"datum": 92}, "y": {"datum": -262}, "y2": {"datum": -50}}},
          {"data": {"values": [{}]}, "mark": {"type": "rule", "stroke": "#f25cf2", "strokeWidth": 1}, "encoding": {"x": {"datum": 59.8, "scale": {"type": "log"}}, "x2": {"datum": 10.9}, "y": {"datum": -185}, "y2": {"datum": -415}}},
          {"data": {"values": [{}]}, "mark": {"type": "point", "shape": "triangle-left", "filled": true, "color": "#f25cf2", "size": 18, "opacity": 1, "angle": 342}, "encoding": {"x": {"datum": 10.9, "scale": {"type": "log"}}, "y": {"datum": -415}}}
        ]
      },
      {
        "layer": [
          {"data": {"values": [{}]}, "mark": {"type": "rect", "fill": "white", "stroke": "#f25cf2", "strokeWidth": 1.2}, "encoding": {"x": {"datum": 62.47}, "x2": {"datum": 92.6}, "y": {"datum": -264.3}, "y2": {"datum": -28.6}}},
          {"data": {"values": [{}]}, "mark": {"type": "rect", "fill": "white", "stroke": "#8c8c8c", "strokeWidth": 0.8}, "encoding": {"x": {"datum": 70}, "x2": {"datum": 90}, "y": {"datum": -200}, "y2": {"datum": -50}}},
          {"data": {"name": "ie"}, "mark": {"type": "line", "strokeWidth": 1.4}, "encoding": {
            "x": {"field": "f", "type": "quantitative", "scale": {"domain": [70, 90], "range": [80, 157], "nice": false, "zero": false}, "axis": {"orient": "bottom", "offset": -26, "title": null, "values": [70, 80, 90], "grid": false, "zindex": 1, "labelFontSize": 10.5, "labelPadding": 4}},
            "y": {"field": "v", "type": "quantitative", "scale": {"domain": [-200, -50], "range": [104, 55], "nice": false, "zero": false}, "axis": {"orient": "left", "offset": -80, "title": null, "values": [-200, -150, -100, -50], "labelExpr": "''+datum.value", "grid": false, "zindex": 1, "labelFontSize": 10.5, "labelPadding": 3}},
            "color": {"field": "s", "type": "nominal", "title": null}, "strokeDash": {"field": "s", "type": "nominal", "title": null}}}
        ]
      }
    ]
  },
  {
    "width": 258, "height": 130,
    "title": {"text": "(f)", "anchor": "start", "frame": "group", "dx": 6, "dy": 18, "fontSize": 12, "fontWeight": "bold", "color": "#000000"},
    "resolve": {"scale": {"x": "independent", "y": "independent"}},
    "layer": [
      {
        "layer": [
          {"data": {"name": "f"}, "transform": [{"filter": "datum.s=='Gzy'||datum.s=='Gzx'"}], "mark": {"type": "line", "clip": true, "strokeWidth": 1.4},
           "encoding": {
             "x": {"field": "f", "type": "quantitative", "scale": {"type": "log", "domain": [0.1, 100], "nice": false}, "axis": {"title": "Frequency (Hz)", "titlePadding": 3, "values": [0.1,0.2,0.3,0.4,0.5,0.6,0.7,0.8,0.9,1,2,3,4,5,6,7,8,9,10,20,30,40,50,60,70,80,90,100], "labelExpr": "abs(log(datum.value)/LN10-round(log(datum.value)/LN10))<0.001?'10'+['⁻⁵','⁻⁴','⁻³','⁻²','⁻¹','⁰','¹','²'][round(log(datum.value)/LN10)+5]:''", "gridColor": {"condition": {"test": "abs(log(datum.value)/LN10-round(log(datum.value)/LN10))<0.001", "value": "#d2d2d2"}, "value": "#e0e0e0"}, "gridDash": {"condition": {"test": "abs(log(datum.value)/LN10-round(log(datum.value)/LN10))<0.001", "value": []}, "value": [1.5, 1.5]}}},
             "y": {"field": "v", "type": "quantitative", "scale": {"domain": [-1000, 500], "nice": false, "zero": false}, "axis": {"title": null, "values": [-1000, -500, 0, 500], "labelExpr": "''+datum.value", "gridColor": "#dcdcdc"}},
             "color": {"field": "s", "type": "nominal", "title": null, "scale": {"domain": ["Gzy","Gzz","Gzo","Gzx","Gz"], "range": ["#1f3dff","#ff1a1a","#cc00cc","#2ca02c","#ff1a1a"]}, "legend": null},
             "strokeDash": {"field": "s", "type": "nominal", "title": null, "scale": {"domain": ["Gzy","Gzz","Gzo","Gzx","Gz"], "range": [[6,2,1.5,2],[5,3],[5,3],[1.5,1.5],[1,0]]}, "legend": null}
           }},
          {"data": {"name": "ph"}, "mark": {"type": "line", "clip": true, "strokeWidth": 1.4}, "encoding": {"x": {"field": "f", "type": "quantitative", "scale": {"type": "log"}}, "y": {"field": "v", "type": "quantitative"}, "color": {"datum": "Gz", "type": "nominal", "title": null}, "strokeDash": {"datum": "Gz", "type": "nominal", "title": null}}},
          {"data": {"name": "ph"}, "mark": {"type": "line", "clip": true, "strokeWidth": 1.4}, "encoding": {"x": {"field": "f", "type": "quantitative", "scale": {"type": "log"}}, "y": {"field": "v", "type": "quantitative"}, "color": {"datum": "Gzz", "type": "nominal", "title": null}, "strokeDash": {"datum": "Gzz", "type": "nominal", "title": null}}},
          {"data": {"name": "f"}, "transform": [{"filter": "datum.s=='Gzo'"}], "mark": {"type": "line", "clip": true, "strokeWidth": 1.4}, "encoding": {"x": {"field": "f", "type": "quantitative", "scale": {"type": "log"}}, "y": {"field": "v", "type": "quantitative"}, "color": {"field": "s", "type": "nominal", "title": null}, "strokeDash": {"field": "s", "type": "nominal", "title": null}}},
          {"data": {"values": [{}]}, "mark": {"type": "rect", "fill": "transparent", "stroke": "#f25cf2", "strokeWidth": 1}, "encoding": {"x": {"datum": 14.8, "scale": {"type": "log"}}, "x2": {"datum": 19}, "y": {"datum": -105}, "y2": {"datum": -9}}},
          {"data": {"values": [{}]}, "mark": {"type": "rule", "stroke": "#f25cf2", "strokeWidth": 1}, "encoding": {"x": {"datum": 15.9, "scale": {"type": "log"}}, "x2": {"datum": 9.06}, "y": {"datum": -113}, "y2": {"datum": -382}}},
          {"data": {"values": [{}]}, "mark": {"type": "point", "shape": "triangle-left", "filled": true, "color": "#f25cf2", "size": 18, "opacity": 1, "angle": 312}, "encoding": {"x": {"datum": 9.06, "scale": {"type": "log"}}, "y": {"datum": -382}}}
        ]
      },
      {
        "layer": [
          {"data": {"values": [{}]}, "mark": {"type": "rect", "fill": "white", "stroke": "#f25cf2", "strokeWidth": 1.2}, "encoding": {"x": {"datum": 16.788}, "x2": {"datum": 17.602}, "y": {"datum": -62.99}, "y2": {"datum": -53.24}}},
          {"data": {"values": [{}]}, "mark": {"type": "rect", "fill": "white", "stroke": "#8c8c8c", "strokeWidth": 0.8}, "encoding": {"x": {"datum": 17}, "x2": {"datum": 17.5}, "y": {"datum": -60}, "y2": {"datum": -54.5}}},
          {"data": {"name": "if"}, "mark": {"type": "line", "strokeWidth": 1.6}, "encoding": {
            "x": {"field": "f", "type": "quantitative", "scale": {"domain": [17, 17.5], "range": [93, 152], "nice": false, "zero": false}, "axis": {"orient": "bottom", "offset": -24, "title": null, "values": [17, 17.5], "labelExpr": "''+datum.value", "grid": false, "zindex": 1, "labelFontSize": 10.5, "labelPadding": 4}},
            "y": {"field": "v", "type": "quantitative", "scale": {"domain": [-60, -54.5], "range": [106, 71], "nice": false, "zero": false}, "axis": {"orient": "left", "offset": -93, "title": null, "values": [-60, -55], "labelExpr": "''+datum.value", "grid": false, "zindex": 1, "labelFontSize": 10.5, "labelPadding": 3}},
            "color": {"field": "s", "type": "nominal", "title": null}, "strokeDash": {"field": "s", "type": "nominal", "title": null}}}
        ]
      }
    ]
  }
]
}
